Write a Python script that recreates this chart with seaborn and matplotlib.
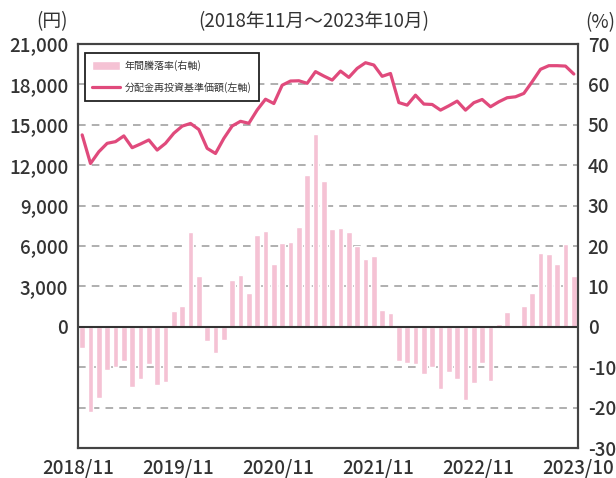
import pandas as pd
import matplotlib
matplotlib.use('Agg')
import matplotlib.pyplot as plt
import seaborn as sns

sns.set_style('white')
plt.rcParams['font.family'] = ['Noto Sans CJK JP', 'DejaVu Sans']
plt.rcParams['axes.unicode_minus'] = False

# 年間騰落率 (%) 2018/11 - 2023/10
ret = [-5.2, -21.1, -17.7, -10.7, -10.0, -8.4, -14.8, -12.8, -9.3, -14.3,
       -13.6, 3.9, 5.1, 23.4, 12.5, -3.6, -6.4, -3.2, 11.7, 12.9,
       8.4, 22.6, 23.8, 15.5, 20.8, 21.0, 24.6, 37.5, 47.6, 36.2,
       24.2, 24.5, 23.4, 20.0, 16.7, 17.5, 4.2, 3.3, -8.4, -8.9,
       -9.3, -11.7, -10.0, -15.4, -11.1, -12.8, -18.1, -13.8, -8.9, -13.4,
       0.7, 3.6, -0.4, 5.1, 8.4, 18.3, 17.9, 15.5, 20.6, 12.5]

# 分配金再投資基準価額 (円)
nav = [14250, 12125, 13000, 13625, 13750, 14175, 13300, 13575, 13875, 13125,
       13625, 14375, 14900, 15100, 14650, 13250, 12870, 13990, 14910, 15260,
       15110, 16100, 16900, 16580, 17940, 18250, 18270, 18080, 18950, 18620,
       18320, 18990, 18520, 19190, 19610, 19440, 18600, 18810, 16650, 16460,
       17200, 16540, 16510, 16090, 16410, 16760, 16090, 16640, 16880, 16340,
       16710, 17010, 17080, 17330, 18200, 19120, 19390, 19390, 19360, 18770]

xlabels = ['2018/11', '2019/11', '2020/11', '2021/11', '2022/11', '2023/10']
left_ticks = [0, 3000, 6000, 9000, 12000, 15000, 18000, 21000]
right_ticks = [-30, -20, -10, 0, 10, 20, 30, 40, 50, 60, 70]

df = pd.DataFrame({'month': range(len(ret)), 'ret': ret, 'nav': nav})

bar_color = '#F5C2D4'
line_color = '#E04A7C'
text_color = '#333333'

fig = plt.figure(figsize=(6.16, 4.78), dpi=100)
ax = fig.add_axes([78 / 616, 1 - 448 / 478, 500 / 616, 404 / 478])
ax2 = ax.twinx()

# 棒グラフ（右軸）
sns.barplot(data=df, x='month', y='ret', color=bar_color, width=0.66,
            saturation=1, ax=ax, label='年間騰落率(右軸)')
ax.set_ylim(-30, 70)
ax.set_axisbelow(True)
for v in [-20, -10, 10, 20, 30, 40, 50, 60]:
    ax.axhline(v, color='#9a9a9a', lw=1.1, ls=(0, (5, 4)), zorder=0)
ax.axhline(0, color='#333333', lw=1.5, zorder=3)

# 折れ線（左軸）
sns.lineplot(data=df, x='month', y='nav', color=line_color, lw=2.3,
             ax=ax2, label='分配金再投資基準価額(左軸)')
ax2.set_ylim(-9000, 21000)

# 軸の左右を入れ替え
ax.yaxis.tick_right()
ax.set_yticks(right_ticks)
ax.set_yticklabels([str(v) for v in right_ticks])
ax2.yaxis.tick_left()
ax2.set_yticks(left_ticks)
ax2.set_yticklabels([f'{v:,}' for v in left_ticks])

ax.set_xlim(-0.5, len(ret) - 0.5)
ax.set_xticks([-0.5, 11.5, 23.5, 35.5, 47.5, len(ret) - 0.5])
ax.set_xticklabels(xlabels)
ax.set_xlabel('')
ax.set_ylabel('')
ax2.set_xlabel('')
ax2.set_ylabel('')

for a in (ax, ax2):
    for s in a.spines.values():
        s.set_color('#444444')
        s.set_linewidth(1.5)
        s.set_visible(True)

ax.tick_params(axis='x', direction='in', length=6, width=1.3, color='#444444',
               pad=8, labelsize=13.5, labelcolor=text_color)
ax.tick_params(axis='y', length=0, pad=7, labelsize=13.5, labelcolor=text_color)
ax2.tick_params(axis='y', length=0, pad=7, labelsize=13.5, labelcolor=text_color)
for t in ax.get_xticklabels() + ax.get_yticklabels() + ax2.get_yticklabels():
    t.set_fontweight('medium')

# 凡例
h1, l1 = ax.get_legend_handles_labels()
h2, l2 = ax2.get_legend_handles_labels()
if ax.get_legend():
    ax.get_legend().remove()
leg = ax2.legend(h1 + h2, l1 + l2, loc='upper left', bbox_to_anchor=(0.014, 0.978),
                 borderaxespad=0, fancybox=False, framealpha=1, fontsize=7.2,
                 handlelength=2.8, handleheight=1.0, labelspacing=1.1,
                 borderpad=0.75, handletextpad=0.4)
leg.get_frame().set_edgecolor('#222222')
leg.get_frame().set_linewidth(1.3)
for t in leg.get_texts():
    t.set_color(text_color)

fig.text(0.51, 0.954, '(2018年11月～2023年10月)', ha='center', va='center',
         fontsize=13.5, color=text_color)
fig.text(52 / 616, 0.954, '(円)', ha='center', va='center', fontsize=13.5, color=text_color)
fig.text(600 / 616, 0.952, '(%)', ha='center', va='center', fontsize=13.5, color=text_color)

fig.savefig('out.png', dpi=100)
